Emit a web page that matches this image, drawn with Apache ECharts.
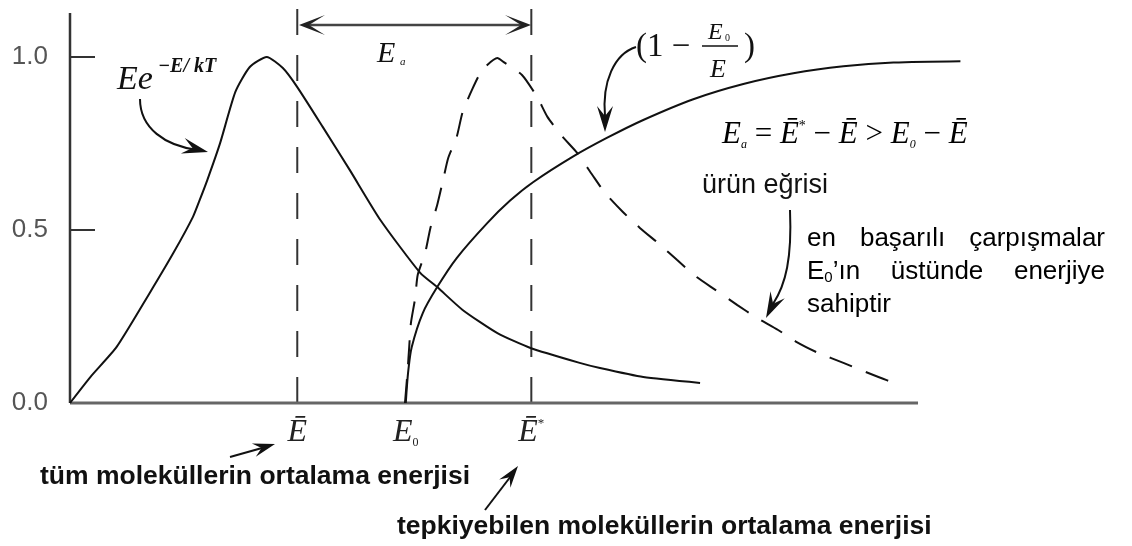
<!DOCTYPE html>
<html>
<head>
<meta charset="utf-8">
<script src="https://cdn.jsdelivr.net/npm/echarts@6/dist/echarts.min.js"></script>
<style>
  html, body { margin: 0; padding: 0; background: #fff; }
  #chart { width: 1132px; height: 546px; }
</style>
</head>
<body>
<div id="chart"></div>
<script>
// Tick values on the vertical axis
const yTickValues = [0, 0.5, 1.0];

// Characteristic energies marked under the energy axis: mean energy, threshold, mean of reacting molecules
const markerEnergies = [2.68, 3.96, 5.44];
const markerLabels = ['{e|Ē}', '{e|E}{sub|0}', '{e|Ē}{sup|*}'];

// Energy distribution E·e^(−E/kT), normalised to its maximum
const boltzmann = [
  [0, 0], [0.24, 0.075], [0.55, 0.162], [0.94, 0.318], [1.22, 0.434], [1.45, 0.538],
  [1.53, 0.587], [1.62, 0.645], [1.77, 0.751], [1.95, 0.899], [2.12, 0.971], [2.32, 1.0],
  [2.51, 0.968], [2.68, 0.913], [2.98, 0.798], [3.30, 0.673], [3.66, 0.529], [4.13, 0.376],
  [4.33, 0.335], [4.63, 0.269], [5.04, 0.202], [5.43, 0.159], [6.01, 0.116], [6.25, 0.101],
  [6.76, 0.075], [7.43, 0.058]
];

// Distribution of the molecules that react (product curve)
const reacting = [
  [3.95, 0], [3.98, 0.09], [4.00, 0.162], [4.02, 0.231], [4.07, 0.303], [4.10, 0.370],
  [4.19, 0.436], [4.25, 0.506], [4.33, 0.572], [4.40, 0.645], [4.46, 0.708], [4.56, 0.769],
  [4.63, 0.841], [4.74, 0.905], [4.86, 0.962], [5.04, 0.997], [5.11, 0.986], [5.33, 0.948],
  [5.51, 0.884], [5.63, 0.827], [5.81, 0.769], [5.98, 0.723], [6.16, 0.659], [6.31, 0.607],
  [6.52, 0.552], [6.72, 0.506], [6.96, 0.457], [7.16, 0.413], [7.39, 0.364], [7.61, 0.327],
  [7.87, 0.283], [8.08, 0.249], [8.35, 0.211], [8.57, 0.176], [8.82, 0.145], [9.12, 0.116],
  [9.38, 0.090], [9.63, 0.066], [9.73, 0.058]
];

// Fraction of collisions energetic enough to react, (1 − E0/E)
const fraction = [
  [3.96, 0], [3.97, 0.038], [3.99, 0.095], [4.03, 0.162], [4.16, 0.26], [4.33, 0.335],
  [4.56, 0.419], [4.92, 0.520], [5.19, 0.585], [5.46, 0.638], [5.93, 0.712], [6.33, 0.766],
  [6.76, 0.818], [7.35, 0.878], [7.94, 0.922], [8.53, 0.953], [9.12, 0.973], [9.71, 0.984],
  [10.5, 0.988]
];

// Extents of the frame lines
const X_MAX = 10.6;
const Y_MAX = 1.15;
const baselineEnd = 10.0;
const axisTop = 1.127;
const guideTop = 1.14;

// Note beside the product curve, one entry per line
const noteLines = [
  ['en', 'başarılı', 'çarpışmalar'],
  ['E₀’ın', 'üstünde', 'enerjiye'],
  ['sahiptir']
];

const SERIF = '"Liberation Serif", "DejaVu Serif", serif';
const SANS = '"Liberation Sans", Arial, sans-serif';

const chart = echarts.init(document.getElementById('chart'), null, { renderer: 'canvas' });

// arrow head polygon (tip, two barbs and a notch at the back)
function arrowHead(tx, ty, angle, len, half, notch, color) {
  const dx = Math.cos(angle), dy = Math.sin(angle);
  const px = -dy, py = dx;
  return {
    type: 'polygon',
    shape: {
      points: [
        [tx, ty],
        [tx - len * dx + half * px, ty - len * dy + half * py],
        [tx - (len - notch) * dx, ty - (len - notch) * dy],
        [tx - len * dx - half * px, ty - len * dy - half * py]
      ]
    },
    style: { fill: color || '#111' },
    z: 100
  };
}

function curve(x1, y1, c1x, c1y, c2x, c2y, x2, y2, w) {
  return {
    type: 'bezierCurve',
    shape: { x1: x1, y1: y1, cpx1: c1x, cpy1: c1y, cpx2: c2x, cpy2: c2y, x2: x2, y2: y2 },
    style: { stroke: '#111', lineWidth: w || 2, fill: null },
    z: 100
  };
}

function segment(x1, y1, x2, y2, w, color) {
  return {
    type: 'line',
    shape: { x1: x1, y1: y1, x2: x2, y2: y2 },
    style: { stroke: color || '#111', lineWidth: w || 2 },
    z: 100
  };
}

function label(text, x, y, font, extra) {
  return Object.assign({
    type: 'text',
    x: x, y: y,
    style: { text: text, font: font, fill: '#111', align: 'left', verticalAlign: 'middle' },
    z: 100
  }, extra || {});
}

// justified note paragraph
const measureCtx = document.createElement('canvas').getContext('2d');
const NOTE_SIZE = 26, NOTE_SUB = 15;
function measure(text, size) {
  measureCtx.font = size + 'px ' + SANS;
  return measureCtx.measureText(text).width;
}
function wordWidth(word) {
  let w = 0;
  word.split(/(₀)/).forEach(function (part) {
    if (part === '₀') w += measure('0', NOTE_SUB);
    else if (part) w += measure(part, NOTE_SIZE);
  });
  return w;
}
function wordRich(word) {
  return word.split(/(₀)/).filter(Boolean).map(function (part) {
    return part === '₀' ? '{s|0}' : '{n|' + part + '}';
  }).join('');
}
const noteLeft = 807, noteRight = 1105, noteTop = 239, noteStep = 33;
const noteGraphics = [];
noteLines.forEach(function (words, li) {
  const widths = words.map(wordWidth);
  const total = widths.reduce(function (a, b) { return a + b; }, 0);
  const justify = li < noteLines.length - 1 && words.length > 1;
  const gap = justify ? (noteRight - noteLeft - total) / (words.length - 1) : measure(' ', NOTE_SIZE);
  let x = noteLeft;
  words.forEach(function (w, wi) {
    noteGraphics.push({
      type: 'text',
      x: x, y: noteTop + li * noteStep,
      style: {
        text: wordRich(w),
        align: 'left', verticalAlign: 'middle',
        rich: {
          n: { fontFamily: SANS, fontSize: NOTE_SIZE, color: '#111' },
          s: { fontFamily: SANS, fontSize: NOTE_SUB, color: '#111', verticalAlign: 'bottom', lineHeight: 22 }
        }
      },
      z: 100
    });
    x += widths[wi] + gap;
  });
});

const graphics = [
  // E e^(−E/kT)
  label('Ee', 117, 80, 'italic 34px ' + SERIF),
  label('−E/ kT', 158, 67, 'italic bold 20px ' + SERIF),
  curve(140, 99, 140, 128, 165, 146, 198, 150, 2),
  arrowHead(208, 152, Math.atan2(3, 12), 26, 8, 10),

  // activation energy span
  segment(304, 25, 526, 25, 2.5, '#444'),
  arrowHead(299, 25, Math.PI, 26, 10, 16, '#222'),
  arrowHead(531, 25, 0, 26, 10, 16, '#222'),
  label('E', 377, 54, 'italic 30px ' + SERIF),
  label('a', 400, 62, 'italic 11px ' + SERIF),

  // (1 − E0/E)
  label('(1 −', 636, 47, '33px ' + SERIF),
  label('E', 708, 33, 'italic 24px ' + SERIF),
  label('0', 725, 38, '10px ' + SERIF),
  segment(702, 46, 738, 46, 1.5),
  label('E', 710, 70, 'italic 26px ' + SERIF),
  label(')', 744, 47, '33px ' + SERIF),
  curve(636, 47, 614, 54, 602, 82, 605, 116, 2),
  arrowHead(605, 132, Math.PI / 2, 26, 8, 10),

  // Ea = Ē* − Ē > E0 − Ē
  {
    type: 'text', x: 722, y: 135,
    style: {
      text: '{i|E}{sub|a}{n| = }{i|Ē}{sup|*}{n| − }{i|Ē}{n| > }{i|E}{sub|0}{n| − }{i|Ē}',
      align: 'left', verticalAlign: 'middle',
      rich: {
        i: { fontFamily: SERIF, fontStyle: 'italic', fontSize: 31, color: '#111' },
        n: { fontFamily: SERIF, fontSize: 31, color: '#111' },
        sub: { fontFamily: SERIF, fontStyle: 'italic', fontSize: 12, color: '#111', verticalAlign: 'bottom' },
        sup: { fontFamily: SERIF, fontSize: 14, color: '#111', verticalAlign: 'top' }
      }
    },
    z: 100
  },

  // product curve note
  label('ürün eğrisi', 702, 186, '27px ' + SANS),
  curve(790, 210, 792, 258, 786, 284, 773, 304, 2),
  arrowHead(766, 318, Math.atan2(14, -7), 26, 8, 10),

  // bottom captions
  segment(230, 457, 262, 448, 2),
  arrowHead(275, 444, Math.atan2(-13, 45), 22, 7, 8),
  label('tüm moleküllerin ortalama enerjisi', 40, 477, 'bold 26.5px ' + SANS, null),
  segment(485, 510, 511, 476, 2),
  arrowHead(518, 466, Math.atan2(-44, 33), 22, 7, 8),
  label('tepkiyebilen moleküllerin ortalama enerjisi', 397, 527, 'bold 26.5px ' + SANS)
].concat(noteGraphics);

function guide(x) {
  return {
    type: 'line', data: [[x, 0], [x, guideTop]], showSymbol: false, silent: true, clip: false,
    lineStyle: { color: '#333', width: 2, type: [26, 20] }, z: 3
  };
}

const option = {
  animation: false,
  backgroundColor: '#fff',
  grid: { left: 70, top: 5.1, width: 898.9, height: 397.9, containLabel: false, outerBoundsMode: 'none' },
  xAxis: {
    type: 'value', min: 0, max: X_MAX,
    axisLine: { show: false }, axisTick: { show: false }, splitLine: { show: false },
    axisLabel: {
      show: true,
      customValues: markerEnergies,
      margin: 14,
      formatter: function (v) {
        let best = 0;
        markerEnergies.forEach(function (m, i) {
          if (Math.abs(m - v) < Math.abs(markerEnergies[best] - v)) best = i;
        });
        return markerLabels[best];
      },
      rich: {
        e: { fontFamily: SERIF, fontStyle: 'italic', fontSize: 32, color: '#222' },
        sub: { fontFamily: SERIF, fontSize: 12, color: '#222', verticalAlign: 'bottom' },
        sup: { fontFamily: SERIF, fontSize: 13, color: '#222', verticalAlign: 'top' }
      }
    }
  },
  yAxis: {
    type: 'value', min: 0, max: Y_MAX,
    axisLine: { show: false }, splitLine: { show: false },
    axisTick: { show: true, inside: true, length: 25, customValues: yTickValues, lineStyle: { color: '#333', width: 2 } },
    axisLabel: {
      customValues: yTickValues, margin: 22,
      formatter: function (v) { return v.toFixed(1); },
      fontFamily: SANS, fontSize: 26, color: '#555'
    }
  },
  series: [
    {
      type: 'line', data: [[0, 0], [baselineEnd, 0]], showSymbol: false, silent: true, clip: false,
      lineStyle: { color: '#666', width: 3 }, z: 4
    },
    {
      type: 'line', data: [[0, 0], [0, axisTop]], showSymbol: false, silent: true, clip: false,
      lineStyle: { color: '#333', width: 2.5 }, z: 4
    },
    guide(markerEnergies[0]),
    guide(markerEnergies[2]),
    {
      name: 'Ee^(−E/kT)', type: 'line', data: boltzmann, showSymbol: false, smooth: 0.2, clip: false,
      lineStyle: { color: '#111', width: 2 }, z: 5
    },
    {
      name: 'ürün eğrisi', type: 'line', data: reacting, showSymbol: false, smooth: 0.2, clip: false,
      lineStyle: { color: '#111', width: 2, type: [24, 15] }, z: 5
    },
    {
      name: '(1 − E0/E)', type: 'line', data: fraction, showSymbol: false, smooth: 0.3, clip: false,
      lineStyle: { color: '#111', width: 2 }, z: 5
    }
  ],
  graphic: graphics
};

chart.setOption(option);
</script>
</body>
</html>
